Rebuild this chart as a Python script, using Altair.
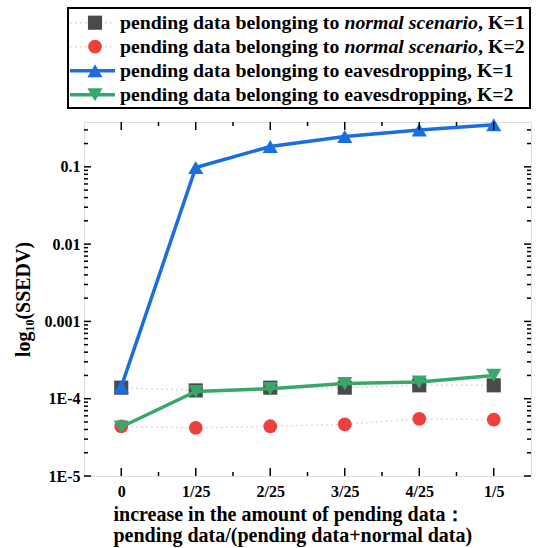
import json
import altair as alt
import pandas as pd

# ---------------- data ----------------
x_labels = ["0", "1/25", "2/25", "3/25", "4/25", "1/5"]
x_idx = [0, 1, 2, 3, 4, 5]
normal_k1 = [1.39e-4, 1.28e-4, 1.39e-4, 1.39e-4, 1.49e-4, 1.49e-4]
normal_k2 = [4.38e-5, 4.2e-5, 4.4e-5, 4.66e-5, 5.5e-5, 5.35e-5]
eaves_k1 = [1.42e-4, 0.098, 0.183, 0.247, 0.30, 0.35]
eaves_k2 = [4.3e-5, 1.24e-4, 1.35e-4, 1.57e-4, 1.64e-4, 2.0e-4]
y_tick_values = [1e-5, 1e-4, 1e-3, 1e-2, 1e-1]
y_tick_labels = ["1E-5", "1E-4", "0.001", "0.01", "0.1"]
series_names = ["nk1", "nk2", "ek1", "ek2"]

FONT = "Liberation Serif"
W, H = 447, 354
Y_MAX = 0.38

rows = []
for name, vals in zip(series_names, [normal_k1, normal_k2, eaves_k1, eaves_k2]):
    for i, v in zip(x_idx, vals):
        rows.append({"idx": i, "value": v, "series": name})
df = pd.DataFrame(rows)

xscale = alt.Scale(domain=[-0.5, 5.5], nice=False, zero=False)
yscale = alt.Scale(type="log", domain=[1e-5, Y_MAX], nice=False)

xaxis = alt.Axis(
    values=x_idx,
    labelExpr=f"{json.dumps(x_labels)}[datum.value]",
    ticks=False, domain=False, grid=False,
    labelFont=FONT, labelFontWeight="bold", labelFontSize=16, labelColor="black",
    labelPadding=7,
    title=["increase in the amount of pending data：", "pending data/(pending data+normal data)"],
    titleFont=FONT, titleFontWeight="bold", titleFontSize=20, titleColor="black",
    titleAlign="left", titleAnchor="start", titleX=29, titleY=28, titleBaseline="top",
    titleLineHeight=21,
)
yaxis = alt.Axis(
    values=y_tick_values,
    labelExpr=f"{json.dumps(y_tick_labels)}[round(log(datum.value)/LN10)+5]",
    ticks=False, domain=False, grid=False,
    labelFont=FONT, labelFontWeight="bold", labelFontSize=16, labelColor="black",
    labelPadding=4,
    title="log₁₀(SSEDV)",
    titleFont=FONT, titleFontWeight="bold", titleFontSize=20, titleColor="black",
    titleX=-61, titleY=H / 2, titleBaseline="middle", titleAngle=270,
)

X = alt.X("idx:Q", scale=xscale, axis=xaxis)
Y = alt.Y("value:Q", scale=yscale, axis=yaxis)

base = alt.Chart(df)

def sel(name):
    return base.transform_filter(alt.datum.series == name)

GRAY = "#4a4a4a"
RED = "#EF4040"
BLUE = "#1C6EE0"
GREEN = "#38A86A"

layers = []
# normal scenario K=1: dotted faint line + squares
layers.append(sel("nk1").mark_line(color="#cfcfcf", strokeWidth=1.5, strokeDash=[1.5, 3.5]).encode(x=X, y=Y))
layers.append(sel("nk1").mark_point(shape="square", filled=True, size=200, color=GRAY, opacity=1).encode(x=X, y=Y))
# normal scenario K=2: dotted faint line + circles
layers.append(sel("nk2").mark_line(color="#f6c4c4", strokeWidth=1.5, strokeDash=[1.5, 3.5]).encode(x=X, y=Y))
layers.append(sel("nk2").mark_point(shape="circle", filled=True, size=190, color=RED, opacity=1).encode(x=X, y=Y))
# eavesdropping K=1
layers.append(sel("ek1").mark_line(color=BLUE, strokeWidth=3.5).encode(x=X, y=Y))
layers.append(sel("ek1").mark_point(shape="triangle-up", filled=True, size=230, color=BLUE, opacity=1).encode(x=X, y=Y))
# eavesdropping K=2
layers.append(sel("ek2").mark_line(color=GREEN, strokeWidth=3.5).encode(x=X, y=Y))
layers.append(sel("ek2").mark_point(shape="triangle-down", filled=True, size=230, color=GREEN, opacity=1).encode(x=X, y=Y))

# ---------------- inward axis ticks ----------------
y_minor = [m * 10.0 ** d for d in range(-5, 0) for m in range(2, 10) if m * 10.0 ** d <= Y_MAX]
ymaj = pd.DataFrame({"value": y_tick_values})
ymin = pd.DataFrame({"value": y_minor})
x_minor = [i + 0.5 for i in x_idx[:-1]]
xmaj = pd.DataFrame({"idx": x_idx})
xmin = pd.DataFrame({"idx": x_minor})

for d, ln in [(ymaj, 7), (ymin, 4)]:
    layers.append(alt.Chart(d).mark_rule(color="black", strokeWidth=1.5).encode(y=Y, x=alt.value(0), x2=alt.value(ln)))
    layers.append(alt.Chart(d).mark_rule(color="black", strokeWidth=1.5).encode(y=Y, x=alt.value(W), x2=alt.value(W - ln)))
for d, ln in [(xmaj, 8), (xmin, 4)]:
    layers.append(alt.Chart(d).mark_rule(color="black", strokeWidth=1.5).encode(x=X, y=alt.value(H), y2=alt.value(H - ln)))
    layers.append(alt.Chart(d).mark_rule(color="black", strokeWidth=1.5).encode(x=X, y=alt.value(0), y2=alt.value(ln)))

# ---------------- legend (drawn above the plot) ----------------
one = pd.DataFrame({"a": [0]})
LFS = 19.8
row_y = [-99.3, -75.3, -51.3, -27.3]
layers.append(alt.Chart(one).mark_rect(fill="white", fillOpacity=0, stroke="black", strokeWidth=2).encode(
    x=alt.value(-16), x2=alt.value(446), y=alt.value(-114), y2=alt.value(-14)))

def ltext(txt, xpos, ypos, italic=False):
    kw = dict(align="left", baseline="middle", font=FONT, fontWeight="bold", fontSize=LFS, color="black", text=txt)
    if italic:
        kw["fontStyle"] = "italic"
    return alt.Chart(one).mark_text(**kw).encode(x=alt.value(xpos), y=alt.value(ypos))

# row 1 & 2: normal scenario
for r, (shape, col, lcol, k) in enumerate([("square", GRAY, "#cfcfcf", "1"), ("circle", RED, "#f6c4c4", "2")]):
    yy = row_y[r]
    layers.append(alt.Chart(one).mark_rule(color=lcol, strokeWidth=1.5, strokeDash=[1.5, 3.5]).encode(
        x=alt.value(-14), x2=alt.value(31), y=alt.value(yy)))
    layers.append(alt.Chart(one).mark_point(shape=shape, filled=True, size=200 if shape == "square" else 190,
                                            color=col, opacity=1).encode(x=alt.value(11), y=alt.value(yy)))
    layers.append(ltext("pending data belonging to", 36, yy))
    layers.append(ltext("normal scenario", 36 + 11.336 * LFS, yy, italic=True))
    layers.append(ltext(", K=" + k, 36 + 11.336 * LFS + 6.751 * LFS, yy))

for r, (shape, col, k) in enumerate([("triangle-up", BLUE, "1"), ("triangle-down", GREEN, "2")]):
    yy = row_y[r + 2]
    layers.append(alt.Chart(one).mark_rule(color=col, strokeWidth=3.5).encode(
        x=alt.value(-14), x2=alt.value(31), y=alt.value(yy)))
    layers.append(alt.Chart(one).mark_point(shape=shape, filled=True, size=230, color=col, opacity=1).encode(
        x=alt.value(11), y=alt.value(yy)))
    layers.append(ltext("pending data belonging to eavesdropping, K=" + k, 36, yy))

chart = alt.layer(*layers).properties(
    width=W, height=H,
    autosize=alt.AutoSizeParams(type="none"),
    padding={"left": 84, "top": 122, "right": 538 - 84 - W, "bottom": 548 - 122 - H},
).configure_view(stroke="black", strokeWidth=2).configure(background="white")

chart.save("out.html", embed_options={"renderer": "svg", "actions": False})
